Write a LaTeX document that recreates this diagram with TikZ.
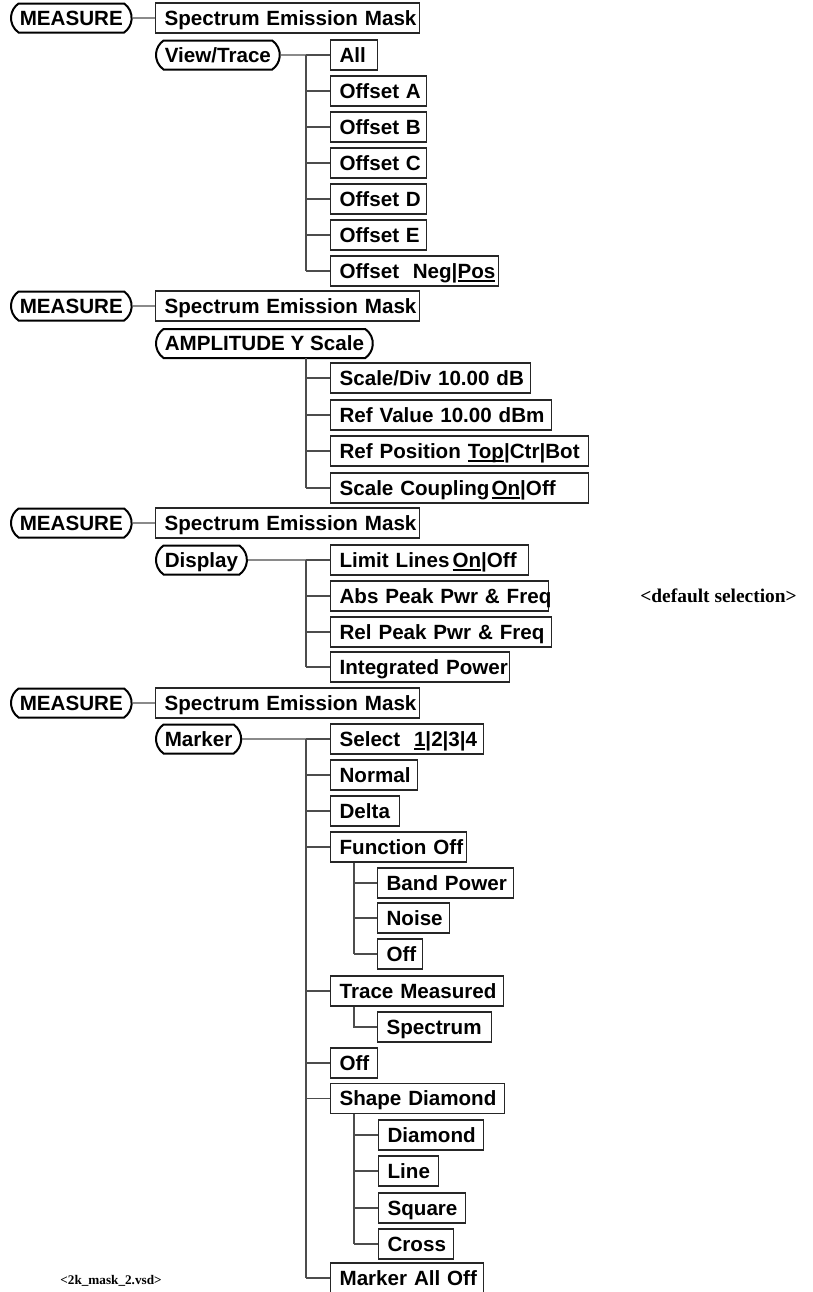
\documentclass[tikz,border=0pt]{standalone}
\usepackage{fontspec}
\setmainfont{Liberation Sans}
\newfontfamily\notefont{Liberation Serif}
\usetikzlibrary{shapes.misc}

\newcommand\menufont{\fontsize{10.3}{12}\selectfont\bfseries}
\newcommand\undl[1]{\setbox0=\hbox{#1}\rlap{\rule[-1.7pt]{\wd0}{0.9pt}}\box0}

\tikzset{
  keyname/.style={draw, line width=1pt, rounded rectangle, rounded rectangle arc length=110,
    anchor=west, minimum height=14.5pt, inner xsep=3.6pt, inner ysep=0pt,
    text height=7.4pt, text depth=0pt, font=\menufont},
  menu/.style={draw=black!85, line width=0.6pt, anchor=west, minimum height=15pt,
    inner xsep=4.5pt, inner ysep=0pt, text width={(#1-18)*0.5pt}, align=left,
    text height=7.4pt, text depth=0pt, font=\menufont},
  link/.style={draw=black!70, line width=0.6pt},
  note/.style={anchor=west, inner sep=0pt, font=\notefont\bfseries\fontsize{9.7}{11}\selectfont}
}

\begin{document}
\begin{tikzpicture}[x=0.5pt,y=-0.5pt]
  \useasboundingbox (0,0) rectangle (813,1292);

  % view / trace
  \node[keyname] (meas1) at (10,18) {MEASURE};
  \node[menu=264] (sem1) at (155,18) {\mbox{Spectrum Emission Mask}};
  \draw[link] (meas1) -- (sem1);
  \node[keyname] (view) at (155,55) {View/Trace};
  \coordinate (bus1) at (306,55);
  \foreach \i/\y/\w/\t in {1/55/47/All, 2/91/96/Offset A, 3/127/96/Offset B,
      4/163/96/Offset C, 5/199/96/Offset D, 6/235/96/Offset E,
      7/271/168/{Offset\ \ Neg|\undl{Pos}}}{
    \node[menu=\w] (vt\i) at (330,\y) {\mbox{\t}};
    \draw[link] (bus1 |- vt\i.west) -- (vt\i.west);
  }
  \draw[link] (view) -- (vt1);
  \draw[link] (bus1) -- (bus1 |- vt7.west);

  % amplitude
  \node[keyname] (meas2) at (10,306) {MEASURE};
  \node[menu=264] (sem2) at (155,306) {\mbox{Spectrum Emission Mask}};
  \draw[link] (meas2) -- (sem2);
  \node[keyname] (ampl) at (155,343.5) {AMPLITUDE Y Scale};
  \coordinate (bus2) at (306,358);
  \foreach \i/\y/\w/\t in {1/378/200/{Scale/Div 10.00 dB}, 2/415/221/{Ref Value 10.00 dBm},
      3/451/258/{Ref Position \undl{Top}|Ctr|Bot},
      4/488/258/{Scale Coupling\hspace{0.1em}\undl{On}|Off}}{
    \node[menu=\w] (am\i) at (330,\y) {\mbox{\t}};
    \draw[link] (bus2 |- am\i.west) -- (am\i.west);
  }
  \draw[link] (bus2) -- (bus2 |- am4.west);

  % display
  \node[keyname] (meas3) at (10,523) {MEASURE};
  \node[menu=264] (sem3) at (155,523) {\mbox{Spectrum Emission Mask}};
  \draw[link] (meas3) -- (sem3);
  \node[keyname] (disp) at (155,560) {Display};
  \coordinate (bus3) at (306,560);
  \foreach \i/\y/\w/\t in {1/560/198/{Limit Lines\hspace{0.15em}\undl{On}|Off},
      2/596/218/{Abs Peak Pwr \& Freq}, 3/632/221/{Rel Peak Pwr \& Freq},
      4/667/179/{Integrated Power}}{
    \node[menu=\w] (dp\i) at (330,\y) {\mbox{\t}};
    \draw[link] (bus3 |- dp\i.west) -- (dp\i.west);
  }
  \draw[link] (disp) -- (dp1);
  \draw[link] (bus3) -- (bus3 |- dp4.west);
  \node[note] (dflt) at (640,596) {<default selection>};

  % marker
  \node[keyname] (meas4) at (10,703) {MEASURE};
  \node[menu=264] (sem4) at (155,703) {\mbox{Spectrum Emission Mask}};
  \draw[link] (meas4) -- (sem4);
  \node[keyname] (mark) at (155,739) {Marker};
  \coordinate (bus4) at (306,739);
  \foreach \i/\y/\w/\t in {1/739/153/{Select\ \ \undl{1}|2|3|4}, 2/775/87/Normal,
      3/811/69/Delta, 4/847/136/Function Off, 5/991/173/Trace Measured,
      6/1063/47/Off, 7/1098.5/174/Shape Diamond, 8/1278/153/Marker All Off}{
    \node[menu=\w] (mk\i) at (330,\y) {\mbox{\t}};
    \draw[link] (bus4 |- mk\i.west) -- (mk\i.west);
  }
  \draw[link] (mark) -- (mk1);
  \draw[link] (bus4) -- (bus4 |- mk8.west);

  % marker sub menus
  \coordinate (fbus) at ([xshift=12pt]mk4.south west);
  \foreach \i/\y/\w/\t in {1/883/136/Band Power, 2/918/72/Noise, 3/954/45/Off}{
    \node[menu=\w] (fn\i) at (377,\y) {\mbox{\t}};
    \draw[link] (fbus |- fn\i.west) -- (fn\i.west);
  }
  \draw[link] (fbus) -- (fbus |- fn3.west);
  \coordinate (tbus) at ([xshift=12pt]mk5.south west);
  \node[menu=114] (tm1) at (377,1027) {Spectrum};
  \draw[link] (tbus) |- (tm1.west);
  \coordinate (sbus) at ([xshift=12pt]mk7.south west);
  \foreach \i/\y/\w/\t in {1/1135/105/Diamond, 2/1171/60/Line, 3/1208/87/Square, 4/1244/75/Cross}{
    \node[menu=\w] (sd\i) at (378,\y) {\mbox{\t}};
    \draw[link] (sbus |- sd\i.west) -- (sd\i.west);
  }
  \draw[link] (sbus) -- (sbus |- sd4.west);

  \node[note, font=\notefont\bfseries\fontsize{6.6}{8}\selectfont] (fname) at (60,1281) {<2k\_mask\_2.vsd>};
\end{tikzpicture}
\end{document}
